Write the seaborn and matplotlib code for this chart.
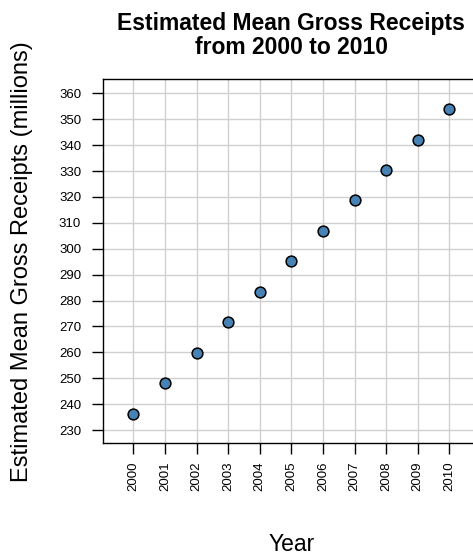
import seaborn as sns
import pandas as pd
import matplotlib.pyplot as plt
from matplotlib import font_manager as fm

years = [2000, 2001, 2002, 2003, 2004, 2005, 2006, 2007, 2008, 2009, 2010]
receipts = [236.3, 248.0, 259.8, 271.6, 283.3, 295.1, 306.8, 318.7, 330.4, 342.1, 353.8]
yticks = list(range(230, 361, 10))

df = pd.DataFrame({'Year': years, 'Receipts': receipts})

sns.set_style('white')
plt.rcParams['font.family'] = ['Liberation Sans', 'DejaVu Sans']
plt.rcParams['text.color'] = 'black'
plt.rcParams['axes.labelcolor'] = 'black'

# bold face of Liberation Sans, not the narrow one
boldFile = None
for f in fm.fontManager.ttflist:
    if f.name == 'Liberation Sans' and f.weight in (700, 'bold') \
            and 'narrow' not in f.fname.lower() and f.style == 'normal':
        boldFile = f.fname
        break
if boldFile:
    titleFont = fm.FontProperties(fname=boldFile, size=16.5)
else:
    titleFont = fm.FontProperties(family='DejaVu Sans', weight='bold', size=15)

fig = plt.figure(figsize=(4.73, 5.58), dpi=100)
ax = fig.add_axes([0.2184, 0.2056, 0.795, 0.6523])

ax.set_axisbelow(True)
ax.grid(True, color='#d0d0d0', linewidth=1.0)
sns.scatterplot(data=df, x='Year', y='Receipts', ax=ax, s=60,
                color='#4682b4', edgecolor='black', linewidth=1.1, zorder=3)

ax.set_xlim(1999.05, 2010.95)
ax.set_ylim(224.9, 365.4)
ax.set_xticks(years)
ax.set_xticklabels([str(y) for y in years], rotation=90)
ax.set_yticks(yticks)
ax.tick_params(axis='both', direction='out', length=8, width=1, color='black',
               labelsize=9.5, labelcolor='black', left=True, bottom=True)
ax.tick_params(axis='y', pad=8)
ax.tick_params(axis='x', pad=5)
for s in ax.spines.values():
    s.set_color('black')
    s.set_linewidth(1.0)

ax.set_xlabel('Year', fontsize=16.5, labelpad=30)
ax.set_ylabel('Estimated Mean Gross Receipts (millions)', fontsize=17, labelpad=18.5)
ax.set_title('Estimated Mean Gross Receipts\nfrom 2000 to 2010', fontproperties=titleFont,
             pad=18, linespacing=1.05)

plt.savefig('out.png', dpi=100)
